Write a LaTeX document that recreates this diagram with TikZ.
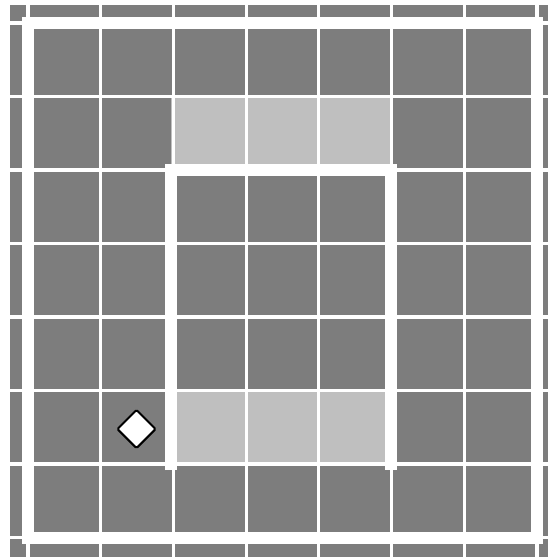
\documentclass[tikz,border=0pt]{standalone}
\usetikzlibrary{shapes.geometric}
\definecolor{darkcell}{gray}{0.49}
\definecolor{lightcell}{gray}{0.75}
\begin{document}
\begin{tikzpicture}[x=1pt,y=-1pt,
  thinline/.style={white,line width=3.2pt},
  thickline/.style={white,line width=12pt},
  marker/.style={diamond,draw=black,fill=white,line width=2pt,minimum width=39pt,minimum height=39pt,inner sep=0pt,rounded corners=1.5pt}]
\useasboundingbox (0,0) rectangle (548,557);
\fill[white] (0,0) rectangle (548,557);
\fill[darkcell] (10,5) rectangle (548,557);
\fill[lightcell] (171,96.5) rectangle (391,170);
\fill[lightcell] (171,390.5) rectangle (391,464);
\foreach \i in {0,...,7} {
  \draw[thinline] (28+72.7*\i,5) -- (28+72.7*\i,557);
  \draw[thinline] (10,23+73.5*\i) -- (548,23+73.5*\i);
}
\draw[thickline] (28,23) rectangle (537,537.5);
\draw[thickline] (171,470) -- (171,170) -- (391,170) -- (391,470);
\node[marker] (m) at (136.5,429) {};
\end{tikzpicture}
\end{document}
